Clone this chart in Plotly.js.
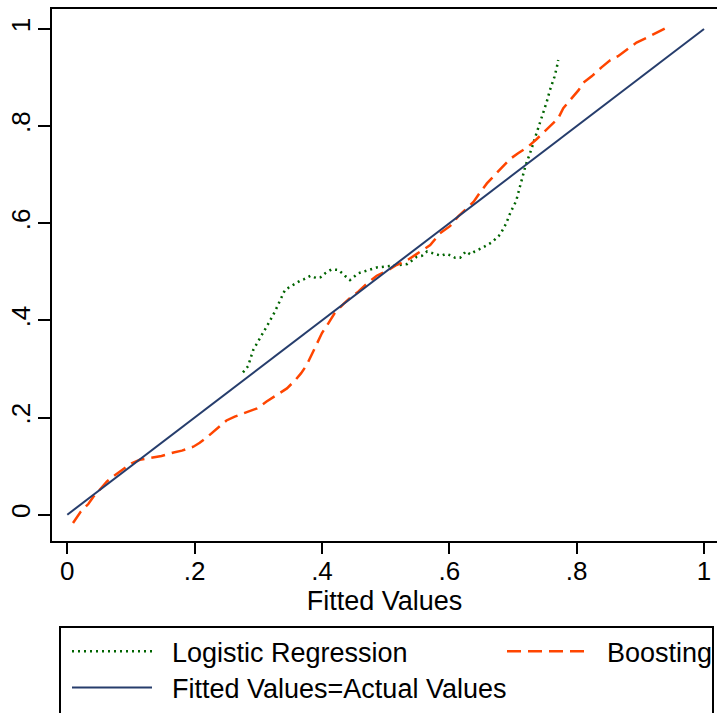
<!DOCTYPE html>
<html>
<head>
<meta charset="utf-8">
<script src="https://cdn.plot.ly/plotly-3.0.1.min.js"></script>
<style>html,body{margin:0;padding:0;background:#fff;}#chart{width:717px;height:713px;}</style>
</head>
<body>
<div id="chart"></div>
<script>
// Logistic Regression calibration curve (fitted, actual)
const logitX = [0.276,0.284,0.292,0.303,0.308,0.316,0.326,0.334,0.342,0.366,0.372,0.382,0.391,0.398,0.405,0.415,0.426,0.436,0.444,0.457,0.486,0.534,0.549,0.557,0.565,0.587,0.595,0.604,0.609,0.617,0.626,0.633,0.640,0.651,0.659,0.667,0.680,0.684,0.689,0.696,0.701,0.705,0.710,0.715,0.720,0.727,0.734,0.741,0.747,0.753,0.758,0.765,0.769,0.771];
const logitY = [0.293,0.306,0.339,0.363,0.375,0.394,0.418,0.441,0.463,0.482,0.485,0.492,0.487,0.489,0.497,0.505,0.504,0.492,0.483,0.497,0.509,0.516,0.531,0.533,0.542,0.533,0.537,0.533,0.529,0.529,0.542,0.536,0.542,0.549,0.555,0.561,0.577,0.586,0.599,0.622,0.634,0.646,0.671,0.695,0.720,0.745,0.773,0.802,0.828,0.850,0.874,0.901,0.922,0.936];
// Boosting calibration curve
const boostX = [0.009,0.021,0.033,0.041,0.054,0.062,0.071,0.083,0.093,0.101,0.114,0.127,0.135,0.148,0.167,0.180,0.198,0.208,0.219,0.227,0.237,0.250,0.263,0.284,0.298,0.313,0.326,0.345,0.358,0.367,0.376,0.384,0.393,0.400,0.410,0.420,0.434,0.444,0.457,0.470,0.486,0.502,0.517,0.533,0.549,0.570,0.585,0.601,0.614,0.627,0.638,0.648,0.659,0.669,0.682,0.695,0.708,0.724,0.737,0.748,0.761,0.771,0.779,0.790,0.803,0.810,0.824,0.839,0.852,0.865,0.879,0.894,0.910,0.926,0.946];
const boostY = [-0.017,0.006,0.022,0.037,0.056,0.068,0.078,0.089,0.100,0.106,0.113,0.116,0.119,0.121,0.128,0.132,0.140,0.148,0.159,0.168,0.181,0.194,0.202,0.212,0.219,0.233,0.244,0.260,0.277,0.291,0.308,0.329,0.353,0.374,0.394,0.415,0.434,0.446,0.459,0.475,0.492,0.502,0.514,0.523,0.537,0.555,0.579,0.594,0.614,0.631,0.644,0.663,0.682,0.696,0.715,0.732,0.744,0.758,0.773,0.787,0.802,0.816,0.837,0.854,0.874,0.889,0.903,0.921,0.935,0.944,0.957,0.972,0.982,0.992,1.006];
// Reference diagonal
const diagX = [0, 1];
const diagY = [0, 1];
// Tick labels
const tickVals = [0, 0.2, 0.4, 0.6, 0.8, 1];
const tickText = ["0", ".2", ".4", ".6", ".8", "1"];
const names = ["\u00a0\u00a0Logistic Regression", "\u00a0\u00a0Boosting", "\u00a0\u00a0Fitted Values=Actual Values"];

const FONT = "Liberation Sans, Arial, sans-serif";

const traces = [
  {x: logitX, y: logitY, type: "scatter", mode: "lines", name: names[0], legend: "legend",
   line: {color: "#006400", width: 2.5, dash: "2px,4px"}},
  {x: boostX, y: boostY, type: "scatter", mode: "lines", name: names[1], legend: "legend2",
   line: {color: "#ff4500", width: 2.5, dash: "14px,7px"}},
  {x: diagX, y: diagY, type: "scatter", mode: "lines", name: names[2], legend: "legend3",
   line: {color: "#263d6c", width: 2}}
];

const legBase = {xref: "container", yref: "container", xanchor: "left", yanchor: "middle",
  bgcolor: "rgba(0,0,0,0)", borderwidth: 0, itemwidth: 80,
  font: {family: FONT, size: 27, color: "#000"}};

const layout = {
  width: 717, height: 713,
  margin: {l: 52, r: 0, t: 9, b: 172, autoexpand: false},
  paper_bgcolor: "#fff", plot_bgcolor: "#fff",
  font: {family: FONT, size: 26, color: "#000"},
  showlegend: true,
  xaxis: {
    range: [-0.024, 1.0204], showgrid: false, zeroline: false,
    showline: true, linecolor: "#000", linewidth: 2, mirror: true,
    ticks: "outside", ticklen: 11, tickwidth: 2, tickcolor: "#000",
    tickvals: tickVals, ticktext: tickText, automargin: false, ticklabelstandoff: -5,
    tickfont: {family: FONT, size: 26, color: "#000"},
    title: {text: "Fitted Values", font: {family: FONT, size: 27, color: "#000"}, standoff: 0}
  },
  yaxis: {
    range: [-0.0541, 1.0411], showgrid: false, zeroline: false,
    showline: true, linecolor: "#000", linewidth: 2, mirror: false,
    ticks: "outside", ticklen: 12, tickwidth: 2, tickcolor: "#000",
    tickvals: tickVals, ticktext: tickText, tickangle: -90, automargin: false, ticklabelstandoff: -2,
    tickfont: {family: FONT, size: 26, color: "#000"}
  },
  legend: Object.assign({}, legBase, {x: 67/717, y: 1 - 651.7/713}),
  legend2: Object.assign({}, legBase, {x: 502/717, y: 1 - 651.7/713}),
  legend3: Object.assign({}, legBase, {x: 67/717, y: 1 - 688/713}),
  shapes: [{type: "rect", xref: "paper", yref: "paper",
    x0: (60-52)/665, x1: (713-52)/665, y0: (541-780)/532, y1: (541-627)/532,
    line: {color: "#000", width: 2}, fillcolor: "rgba(0,0,0,0)"}]
};

Plotly.newPlot("chart", traces, layout, {displayModeBar: false, staticPlot: true});
</script>
</body>
</html>
